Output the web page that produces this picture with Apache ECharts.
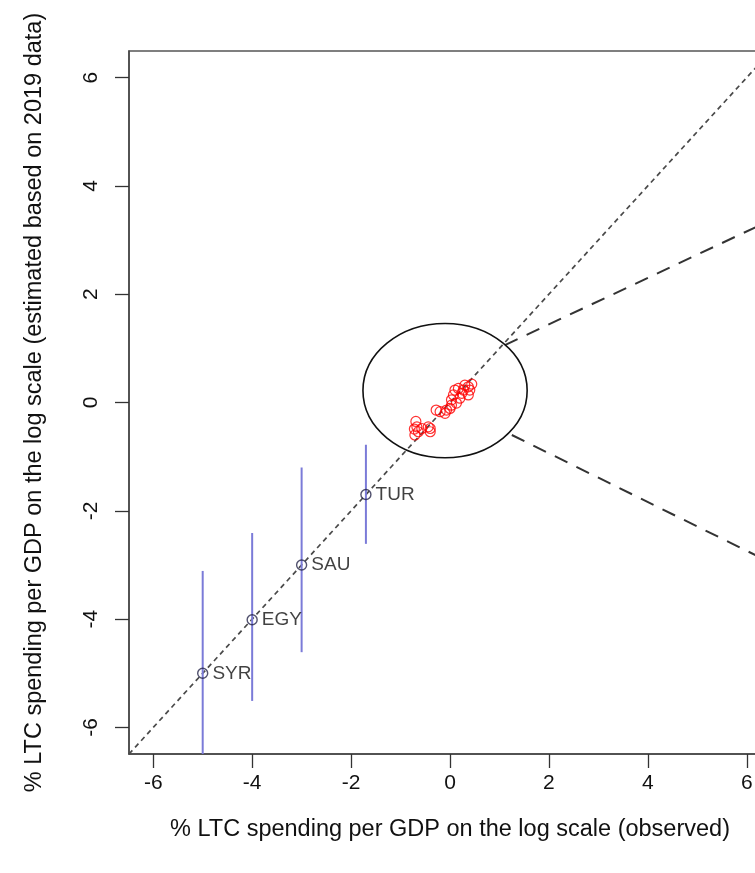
<!DOCTYPE html>
<html>
<head>
<meta charset="utf-8">
<script src="https://cdn.jsdelivr.net/npm/echarts@6/dist/echarts.min.js"></script>
<style>
html, body { margin: 0; padding: 0; background: #fff; overflow: hidden; }
/* the plot box runs past the right edge of the window, as in the source picture */
#chart { width: 771px; height: 873px; }
</style>
</head>
<body>
<div id="chart"></div>
<script>
// red points: observed vs estimated, log scale
const obsX = [-0.69, -0.67, -0.72, -0.64, -0.71, -0.57, -0.40, -0.40, -0.44, -0.28, -0.20, -0.10, -0.07, 0.00,
  0.03, 0.07, 0.10, 0.17, 0.24, 0.20, 0.30, 0.37, 0.44, 0.37, 0.13, 0.27, 0.03, 0.40];
const estY = [-0.35, -0.45, -0.49, -0.54, -0.60, -0.48, -0.48, -0.54, -0.45, -0.14, -0.17, -0.20, -0.14, -0.11,
  0.05, 0.14, 0.23, 0.26, 0.17, 0.08, 0.32, 0.29, 0.34, 0.14, -0.01, 0.23, -0.05, 0.23];

// labelled countries with interval
const countries = ['TUR', 'SAU', 'EGY', 'SYR'];
const countryObs = [-1.70, -3.00, -4.00, -5.00];
const countryEst = [-1.70, -3.00, -4.01, -5.00];
const ciLow = [-2.61, -4.61, -5.51, -7.00];
const ciHigh = [-0.78, -1.20, -2.41, -3.11];

const tickValues = [-6, -4, -2, 0, 2, 4, 6];
const axisLim = [-6.49, 6.49];

// zoom-in annotation: ellipse (cx, cy, rx, ry) and the two connector lines
const zoomEllipse = [-0.10, 0.22, 1.66, 1.24];
const zoomUpper = [[1.11, 1.06], [6.49, 3.37]];
const zoomLower = [[1.25, -0.60], [6.49, -2.96]];

const FONT = "'Liberation Sans', Arial, sans-serif";

const chart = echarts.init(document.getElementById('chart'));

function axisBase(name, gap, isY) {
  return {
    type: 'value',
    min: axisLim[0],
    max: axisLim[1],
    splitLine: { show: false },
    axisLine: { show: true, onZero: false, lineStyle: { color: '#444', width: 1.5 } },
    axisTick: { show: true, customValues: tickValues, length: 14, lineStyle: { color: '#333', width: 1.3 } },
    axisLabel: {
      customValues: tickValues,
      fontSize: 21,
      fontFamily: FONT,
      color: '#111',
      margin: isY ? 27 : 19,
      rotate: isY ? 90 : 0
    },
    name: name,
    nameLocation: 'middle',
    nameGap: gap,
    nameTextStyle: { fontSize: 23.5, fontFamily: FONT, color: '#111' }
  };
}

const option = {
  animation: false,
  backgroundColor: '#fff',
  grid: {
    left: 129, top: 51, bottom: 119, right: 0,
    show: true, borderColor: '#555', borderWidth: 1.5, backgroundColor: '#fff'
  },
  xAxis: axisBase('% LTC spending per GDP on the log scale (observed)', 64, false),
  yAxis: axisBase('% LTC spending per GDP on the log scale (estimated based on 2019 data)', 82, true),
  series: [
    {
      type: 'line',
      data: [[axisLim[0], axisLim[0]], [axisLim[1], axisLim[1]]],
      symbol: 'none',
      silent: true,
      lineStyle: { color: '#4a4a4a', width: 1.7, type: [5, 4] },
      z: 1
    },
    {
      type: 'line',
      data: zoomUpper,
      symbol: 'none',
      silent: true,
      lineStyle: { color: '#333', width: 2, type: [14, 10] },
      z: 1
    },
    {
      type: 'line',
      data: zoomLower,
      symbol: 'none',
      silent: true,
      lineStyle: { color: '#333', width: 2, type: [14, 10] },
      z: 1
    },
    {
      type: 'custom',
      data: [zoomEllipse],
      encode: { x: 0, y: 1 },
      silent: true,
      renderItem: (params, api) => {
        const c = api.coord([api.value(0), api.value(1)]);
        const s = api.size([api.value(2), api.value(3)]);
        return {
          type: 'ellipse',
          shape: { cx: c[0], cy: c[1], rx: s[0], ry: s[1] },
          style: { fill: 'none', stroke: '#111', lineWidth: 1.6 }
        };
      },
      z: 2
    },
    {
      type: 'custom',
      data: countries.map((c, i) => [countryObs[i], ciLow[i], ciHigh[i]]),
      encode: { x: 0, y: [1, 2] },
      silent: true,
      renderItem: (params, api) => {
        const x = api.value(0);
        const lo = Math.max(api.value(1), axisLim[0]);
        const p1 = api.coord([x, lo]);
        const p2 = api.coord([x, api.value(2)]);
        return {
          type: 'line',
          shape: { x1: p1[0], y1: p1[1], x2: p2[0], y2: p2[1] },
          style: { stroke: '#7b7bd8', lineWidth: 2 }
        };
      },
      z: 3
    },
    {
      type: 'scatter',
      data: countries.map((c, i) => [countryObs[i], countryEst[i]]),
      symbol: 'circle',
      symbolSize: 10,
      itemStyle: { color: 'rgba(0,0,0,0)', borderColor: '#26264a', borderWidth: 1.4 },
      label: {
        show: true,
        position: 'right',
        distance: 4,
        formatter: (p) => countries[p.dataIndex],
        fontSize: 19,
        fontFamily: FONT,
        color: '#111'
      },
      z: 4
    },
    {
      type: 'scatter',
      data: obsX.map((x, i) => [x, estY[i]]),
      symbol: 'circle',
      symbolSize: 10,
      itemStyle: { color: 'rgba(0,0,0,0)', borderColor: '#ff0000', borderWidth: 1.2 },
      z: 5
    }
  ]
};

chart.setOption(option);
</script>
</body>
</html>
